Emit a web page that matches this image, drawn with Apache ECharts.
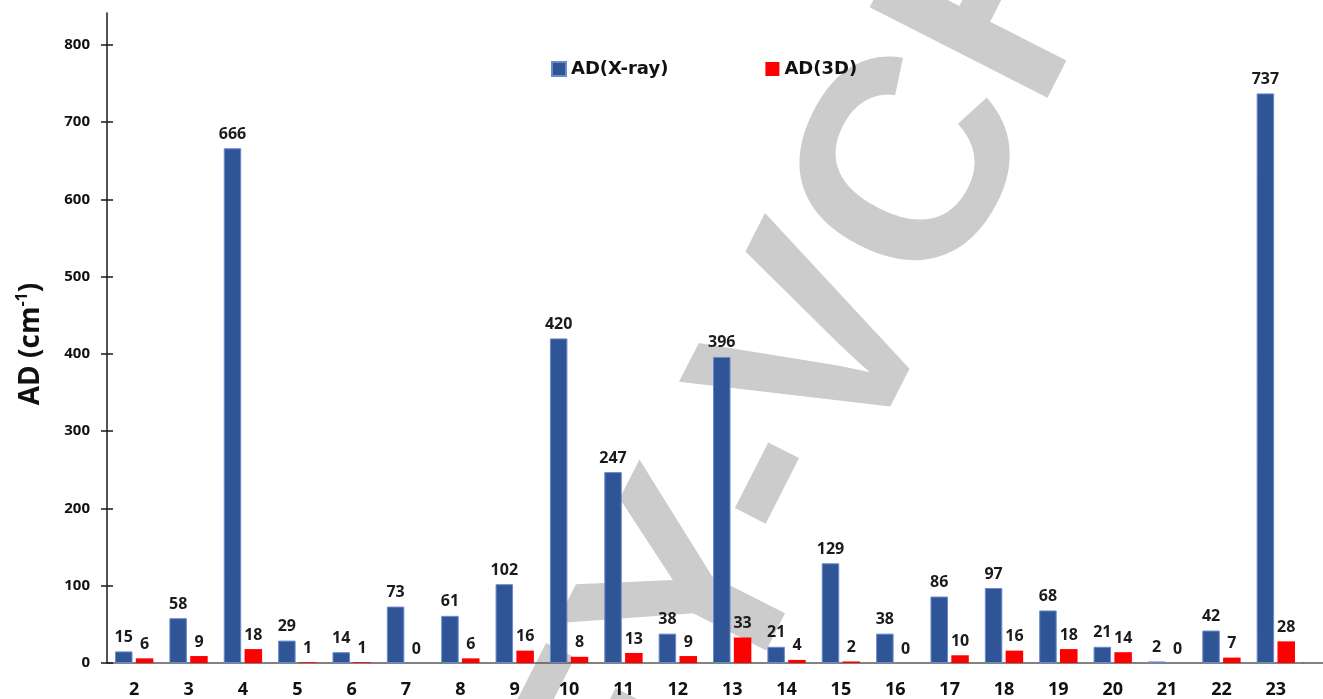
<!DOCTYPE html>
<html>
<head>
<meta charset="utf-8">
<script src="https://cdn.jsdelivr.net/npm/echarts@6/dist/echarts.min.js"></script>
<style>
  html, body { margin: 0; padding: 0; background: #fff; }
  #chart { width: 1323px; height: 699px; }
</style>
</head>
<body>
<div id="chart"></div>
<script>
// Structure index on the x axis
const categories = ['2','3','4','5','6','7','8','9','10','11','12','13','14','15','16','17','18','19','20','21','22','23'];
// AD values (cm^-1) for the X-ray and 3D structures
const adXray = [15, 58, 666, 29, 14, 73, 61, 102, 420, 247, 38, 396, 21, 129, 38, 86, 97, 68, 21, 2, 42, 737];
const ad3d   = [6, 9, 18, 1, 1, 0, 6, 16, 8, 13, 9, 33, 4, 2, 0, 10, 16, 18, 14, 0, 7, 28];
// Y tick values
const yTicks = [0, 100, 200, 300, 400, 500, 600, 700, 800];

const BLUE = '#2f5597';
const RED = '#ff0000';
const FONT = '"Open Sans", "Liberation Sans", sans-serif';

const chart = echarts.init(document.getElementById('chart'), null, { renderer: 'canvas' });

const grid = { left: 107, right: 20, top: 13, bottom: 36 };

const valueLabel = {
  show: true,
  position: 'top',
  distance: 6,
  fontFamily: FONT,
  fontWeight: 'bold',
  fontSize: 16,
  color: '#1b1b1b'
};

chart.setOption({
  animation: false,
  backgroundColor: '#ffffff',
  grid: grid,
  legend: {
    left: 546,
    top: 55,
    itemWidth: 14,
    itemHeight: 14,
    itemGap: 97,
    icon: 'rect',
    textStyle: {
      fontFamily: '"DejaVu Sans", sans-serif',
      fontWeight: 'bold',
      fontSize: 18,
      color: '#111'
    },
    data: ['AD(X-ray)', 'AD(3D)']
  },
  xAxis: {
    type: 'category',
    data: categories,
    axisLine: { lineStyle: { color: '#5a5a5a', width: 1.5 } },
    axisTick: { show: false },
    axisLabel: {
      margin: 18,
      fontFamily: FONT,
      fontWeight: 'bold',
      fontSize: 18,
      color: '#111'
    },
    splitLine: { show: false }
  },
  yAxis: [
    {
      type: 'value',
      min: 0,
      max: 841,
      interval: 100,
      name: 'AD (cm{sup|-1})',
      nameLocation: 'middle',
      nameGap: 59,
      nameRotate: 90,
      nameTextStyle: {
        fontFamily: FONT,
        fontWeight: 'bold',
        fontSize: 28,
        color: '#111',
        lineHeight: 34,
        padding: [0, 12, 0, 0],
        rich: {
          sup: {
            fontFamily: FONT,
            fontWeight: 'bold',
            fontSize: 16,
            color: '#111',
            verticalAlign: 'top',
            lineHeight: 34
          }
        }
      },
      axisLine: { show: true, lineStyle: { color: '#1a1a1a', width: 1.5 } },
      axisTick: { show: true, length: 6, customValues: yTicks, lineStyle: { color: '#1a1a1a', width: 1.5 } },
      axisLabel: {
        customValues: yTicks,
        margin: 17,
        fontFamily: FONT,
        fontWeight: 'bold',
        fontSize: 15,
        color: '#111'
      },
      splitLine: { show: false }
    },
    {
      // inner half of the crossing tick marks
      type: 'value',
      position: 'left',
      min: 0,
      max: 841,
      interval: 100,
      axisLine: { show: false },
      axisTick: { show: true, inside: true, length: 6, customValues: yTicks, lineStyle: { color: '#1a1a1a', width: 1.5 } },
      axisLabel: { show: false },
      splitLine: { show: false }
    }
  ],
  series: [
    {
      name: 'AD(X-ray)',
      type: 'bar',
      data: adXray,
      barWidth: 17.5,
      barGap: '19%',
      itemStyle: { color: BLUE, borderColor: '#6a8ad0', borderWidth: 1 },
      label: valueLabel,
      z: 3
    },
    {
      name: 'AD(3D)',
      type: 'bar',
      data: ad3d,
      barWidth: 17.5,
      itemStyle: { color: RED },
      label: valueLabel,
      z: 3
    }
  ]
});

// Publisher watermark behind the bars, and the x-axis line running to the page edge
const y0 = chart.convertToPixel({ yAxisIndex: 0 }, 0);
const plotRight = chart.getWidth() - grid.right;
chart.setOption({
  graphic: [
    {
      type: 'text',
      id: 'watermark',
      x: 697,
      y: 610,
      rotation: 1.10,
      silent: true,
      z: -10,
      style: {
        text: 'WILEY-VCH',
        font: 'bold 290px "Liberation Sans", Arial, sans-serif',
        fill: '#cccccc',
        align: 'center',
        verticalAlign: 'middle'
      }
    },
    {
      type: 'line',
      id: 'axisExtension',
      silent: true,
      shape: { x1: plotRight, y1: y0, x2: chart.getWidth(), y2: y0 },
      style: { stroke: '#5a5a5a', lineWidth: 1.5 }
    }
  ]
});
</script>
</body>
</html>
